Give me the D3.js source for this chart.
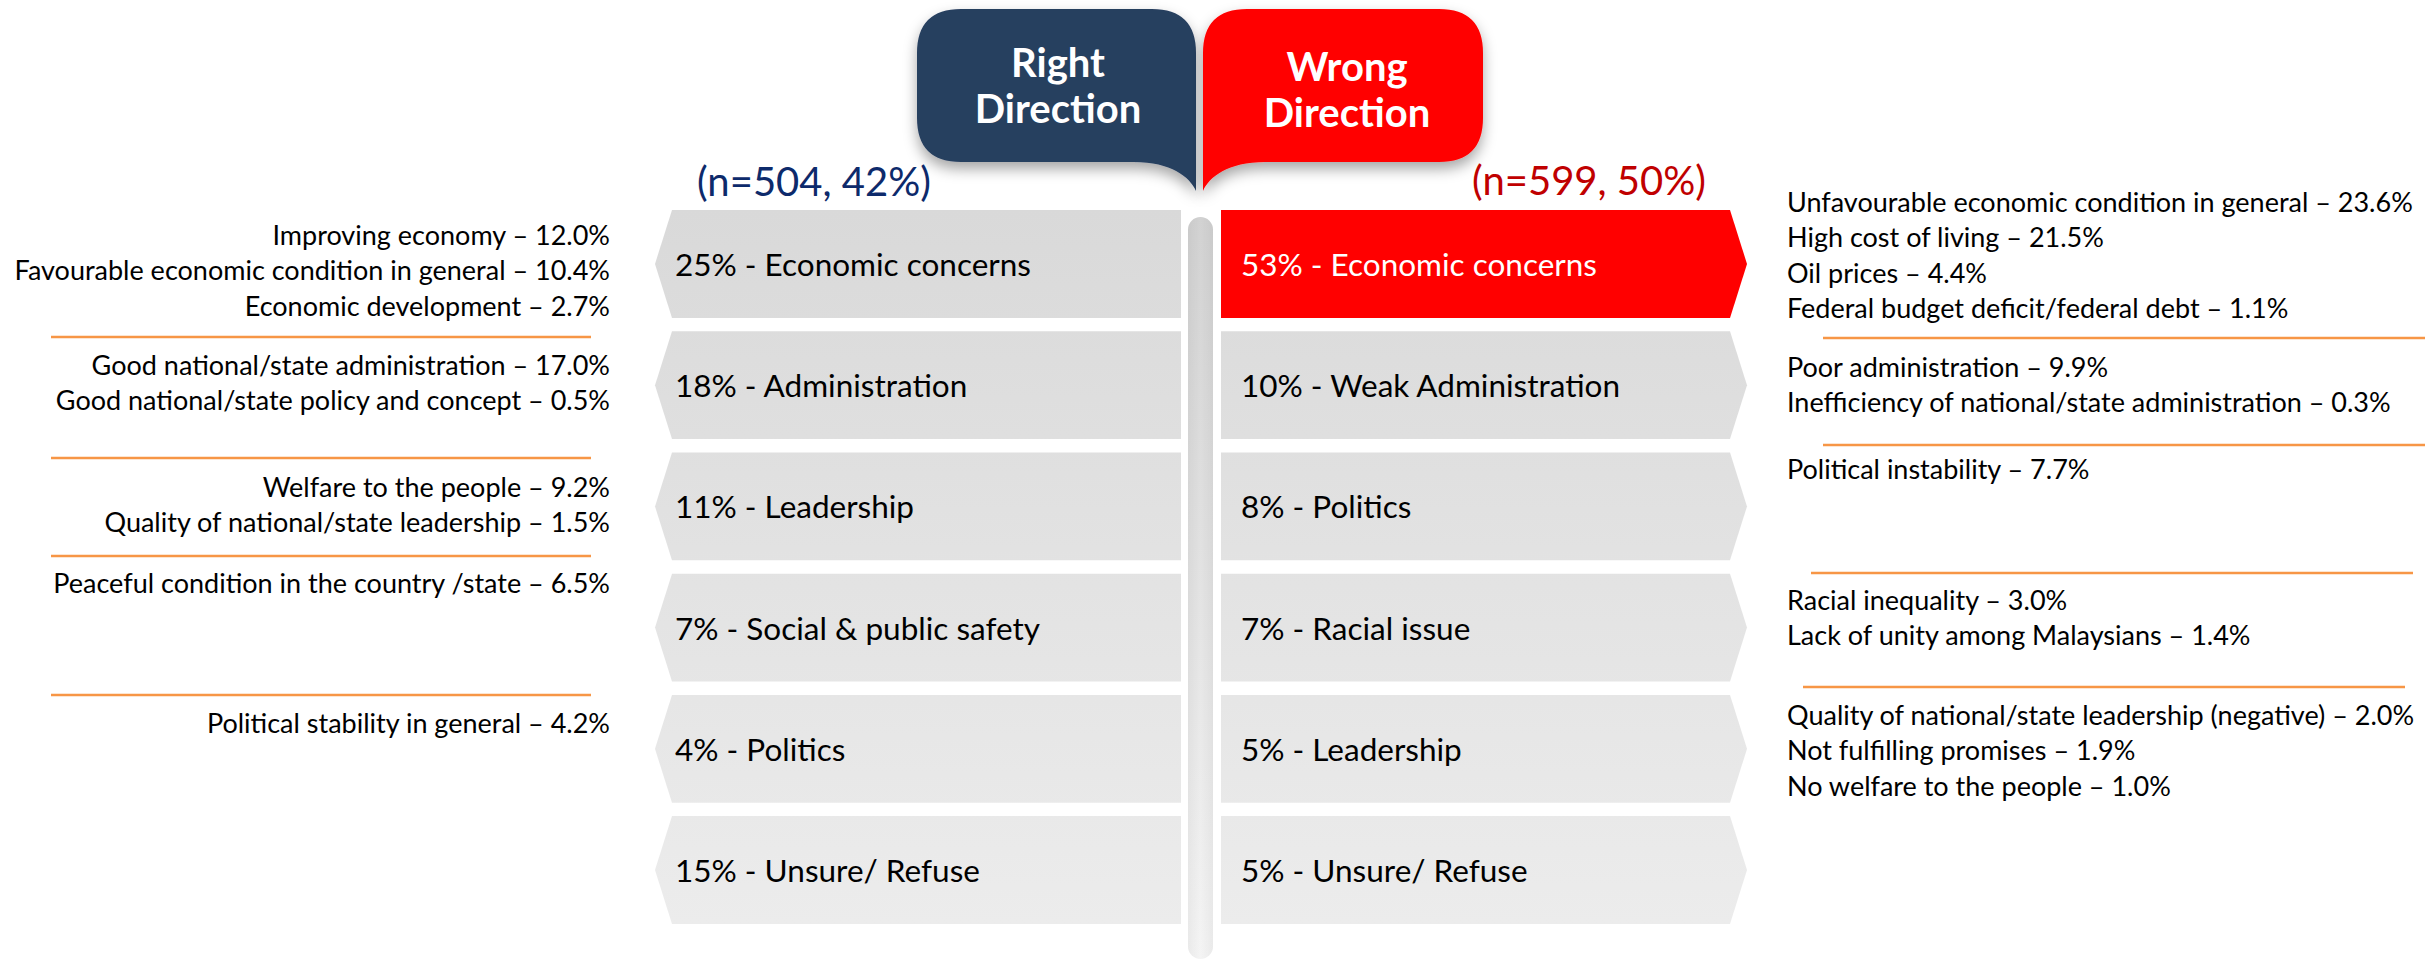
<!DOCTYPE html>
<html>
<head>
<meta charset="utf-8">
<script src="https://cdn.jsdelivr.net/npm/d3@7/dist/d3.min.js"></script>
<style>
  html, body { margin: 0; padding: 0; background: #fff; }
  svg { display: block; font-family: Lato, "Open Sans", sans-serif; }
</style>
</head>
<body>
<svg id="chart" width="2428" height="961"></svg>
<script>
// ---------------- DATA ----------------
const rightTitle = ["Right", "Direction"];
const wrongTitle = ["Wrong", "Direction"];
const rightN = 504, rightPct = 42;
const wrongN = 599, wrongPct = 50;

const rightCategories = ["Economic concerns", "Administration", "Leadership", "Social & public safety", "Politics", "Unsure/ Refuse"];
const rightValues = [25, 18, 11, 7, 4, 15];

const wrongCategories = ["Economic concerns", "Weak Administration", "Politics", "Racial issue", "Leadership", "Unsure/ Refuse"];
const wrongValues = [53, 10, 8, 7, 5, 5];

const rightReasonNames = [
  ["Improving economy", "Favourable economic condition in general", "Economic development"],
  ["Good national/state administration", "Good national/state policy and concept"],
  ["Welfare to the people", "Quality of national/state leadership"],
  ["Peaceful condition in the country /state"],
  ["Political stability in general"]
];
const rightReasonValues = [
  [12.0, 10.4, 2.7],
  [17.0, 0.5],
  [9.2, 1.5],
  [6.5],
  [4.2]
];

const wrongReasonNames = [
  ["Unfavourable economic condition in general", "High cost of living", "Oil prices", "Federal budget deficit/federal debt"],
  ["Poor administration", "Inefficiency of national/state administration"],
  ["Political instability"],
  ["Racial inequality", "Lack of unity among Malaysians"],
  ["Quality of national/state leadership (negative)", "Not fulfilling promises", "No welfare to the people"]
];
const wrongReasonValues = [
  [23.6, 21.5, 4.4, 1.1],
  [9.9, 0.3],
  [7.7],
  [3.0, 1.4],
  [2.0, 1.9, 1.0]
];

// ---------------- LAYOUT ----------------
const svg = d3.select("#chart");

const rows = d3.range(6);
const y = d3.scaleBand().domain(rows).range([210, 924]).paddingInner(0.11).paddingOuter(0);

const leftBox = { tip: 655, x0: 672, x1: 1181 };
const rightBox = { x0: 1221, x1: 1730, tip: 1747 };

const defs = svg.append("defs");
const grad = defs.append("linearGradient").attr("id", "boxGrad")
  .attr("gradientUnits", "userSpaceOnUse").attr("x1", 0).attr("x2", 0).attr("y1", 210).attr("y2", 924);
grad.append("stop").attr("offset", 0).attr("stop-color", "#d9d9d9");
grad.append("stop").attr("offset", 1).attr("stop-color", "#ececec");

const barGrad = defs.append("linearGradient").attr("id", "barGrad")
  .attr("x1", 0).attr("x2", 0).attr("y1", 0).attr("y2", 1);
barGrad.append("stop").attr("offset", 0).attr("stop-color", "#d2d2d2");
barGrad.append("stop").attr("offset", 1).attr("stop-color", "#f4f4f4");

const barGradH = defs.append("linearGradient").attr("id", "barGradH")
  .attr("x1", 0).attr("x2", 1).attr("y1", 0).attr("y2", 0);
barGradH.append("stop").attr("offset", 0).attr("stop-color", "#000").attr("stop-opacity", 0.04);
barGradH.append("stop").attr("offset", 0.5).attr("stop-color", "#000").attr("stop-opacity", 0);
barGradH.append("stop").attr("offset", 1).attr("stop-color", "#000").attr("stop-opacity", 0.04);

const shadow = defs.append("filter").attr("id", "shadow")
  .attr("x", "-20%").attr("y", "-20%").attr("width", "140%").attr("height", "160%");
shadow.append("feDropShadow").attr("dx", 0).attr("dy", 7).attr("stdDeviation", 7)
  .attr("flood-color", "#000").attr("flood-opacity", 0.35);

// ---------------- CENTER BAR ----------------
svg.append("rect").attr("x", 1188).attr("y", 217).attr("width", 25).attr("height", 742)
  .attr("rx", 12.5).attr("fill", "url(#barGrad)");
svg.append("rect").attr("x", 1188).attr("y", 217).attr("width", 25).attr("height", 742)
  .attr("rx", 12.5).attr("fill", "url(#barGradH)");

// ---------------- CALLOUTS ----------------
function callout(x0, x1, top, bottom, tipY, tipSide, r) {
  const p = d3.path();
  if (tipSide === "right") {
    p.moveTo(x0 + r, top);
    p.lineTo(x1 - r, top);
    p.quadraticCurveTo(x1, top, x1, top + r);
    p.lineTo(x1, tipY);
    p.bezierCurveTo(x1 - 6, tipY - 14, x1 - 25, bottom, x1 - 62, bottom);
    p.lineTo(x0 + r, bottom);
    p.quadraticCurveTo(x0, bottom, x0, bottom - r);
    p.lineTo(x0, top + r);
    p.quadraticCurveTo(x0, top, x0 + r, top);
  } else {
    p.moveTo(x0 + r, top);
    p.lineTo(x1 - r, top);
    p.quadraticCurveTo(x1, top, x1, top + r);
    p.lineTo(x1, bottom - r);
    p.quadraticCurveTo(x1, bottom, x1 - r, bottom);
    p.lineTo(x0 + 62, bottom);
    p.bezierCurveTo(x0 + 25, bottom, x0 + 6, tipY - 14, x0, tipY);
    p.lineTo(x0, top + r);
    p.quadraticCurveTo(x0, top, x0 + r, top);
  }
  p.closePath();
  return p.toString();
}

svg.append("path").attr("d", callout(917, 1196, 9, 162, 191, "right", 44))
  .attr("fill", "#283f5f").attr("filter", "url(#shadow)");
svg.append("path").attr("d", callout(1203, 1483, 9, 162, 191, "left", 44))
  .attr("fill", "#ff0000").attr("filter", "url(#shadow)");

const headFont = 40;
svg.append("g").selectAll("text").data(rightTitle).join("text")
  .attr("x", 1058).attr("y", (d, i) => 77 + i * 46)
  .attr("text-anchor", "middle").attr("fill", "#fff")
  .attr("font-weight", 700).attr("font-size", headFont).text(d => d);
svg.append("g").selectAll("text").data(wrongTitle).join("text")
  .attr("x", 1347).attr("y", (d, i) => 81 + i * 46)
  .attr("text-anchor", "middle").attr("fill", "#fff")
  .attr("font-weight", 700).attr("font-size", headFont).text(d => d);

// n labels
svg.append("text").attr("x", 697).attr("y", 196).attr("font-size", 40)
  .attr("fill", "#0d2a6b").text(`(n=${rightN}, ${rightPct}%)`);
svg.append("text").attr("x", 1706).attr("y", 195).attr("font-size", 40).attr("text-anchor", "end")
  .attr("fill", "#c00000").text(`(n=${wrongN}, ${wrongPct}%)`);

// ---------------- BOXES ----------------
function leftShape(i) {
  const t = y(i), b = y(i) + y.bandwidth(), m = t + y.bandwidth() / 2;
  return `M${leftBox.x0},${t}H${leftBox.x1}V${b}H${leftBox.x0}L${leftBox.tip},${m}Z`;
}
function rightShape(i) {
  const t = y(i), b = y(i) + y.bandwidth(), m = t + y.bandwidth() / 2;
  return `M${rightBox.x0},${t}H${rightBox.x1}L${rightBox.tip},${m}L${rightBox.x1},${b}H${rightBox.x0}Z`;
}

const boxFont = 31.5;
const leftG = svg.append("g");
leftG.selectAll("path").data(rows).join("path")
  .attr("d", leftShape).attr("fill", "url(#boxGrad)");
leftG.selectAll("text").data(rows).join("text")
  .attr("x", 675).attr("y", i => y(i) + y.bandwidth() / 2 + 12)
  .attr("font-size", boxFont).attr("fill", "#000")
  .text(i => `${rightValues[i]}% - ${rightCategories[i]}`);

const rightG = svg.append("g");
rightG.selectAll("path").data(rows).join("path")
  .attr("d", rightShape).attr("fill", i => i === 0 ? "#ff0000" : "url(#boxGrad)");
rightG.selectAll("text").data(rows).join("text")
  .attr("x", 1241).attr("y", i => y(i) + y.bandwidth() / 2 + 12)
  .attr("font-size", boxFont).attr("fill", i => i === 0 ? "#fff" : "#000")
  .text(i => `${wrongValues[i]}% - ${wrongCategories[i]}`);

// ---------------- REASONS ----------------
const lineH = 35.4;
const noteFont = 27;
const leftFirstBaseline = [245, 375, 497, 593, 733];
const rightFirstBaseline = [212, 377, 479, 610, 725];
const leftSeps = [337, 458, 556, 695];
const rightSeps = [[338, 1823, 2425], [445, 1823, 2425], [573, 1811, 2413], [687, 1803, 2405]];
const fmt = d3.format(".1f");

rightReasonNames.forEach((names, g) => {
  svg.append("g").selectAll("text").data(names).join("text")
    .attr("x", 610).attr("y", (d, i) => leftFirstBaseline[g] + i * lineH)
    .attr("text-anchor", "end").attr("font-size", noteFont).attr("fill", "#000")
    .text((d, i) => `${d} – ${fmt(rightReasonValues[g][i])}%`);
});
wrongReasonNames.forEach((names, g) => {
  svg.append("g").selectAll("text").data(names).join("text")
    .attr("x", 1787).attr("y", (d, i) => rightFirstBaseline[g] + i * lineH)
    .attr("font-size", noteFont).attr("fill", "#000")
    .text((d, i) => `${d} – ${fmt(wrongReasonValues[g][i])}%`);
});

svg.append("g").selectAll("line").data(leftSeps).join("line")
  .attr("x1", 51).attr("x2", 591).attr("y1", d => d).attr("y2", d => d)
  .attr("stroke", "#f79646").attr("stroke-width", 2.4);
svg.append("g").selectAll("line").data(rightSeps).join("line")
  .attr("x1", d => d[1]).attr("x2", d => d[2]).attr("y1", d => d[0]).attr("y2", d => d[0])
  .attr("stroke", "#f79646").attr("stroke-width", 2.4);
</script>
</body>
</html>
